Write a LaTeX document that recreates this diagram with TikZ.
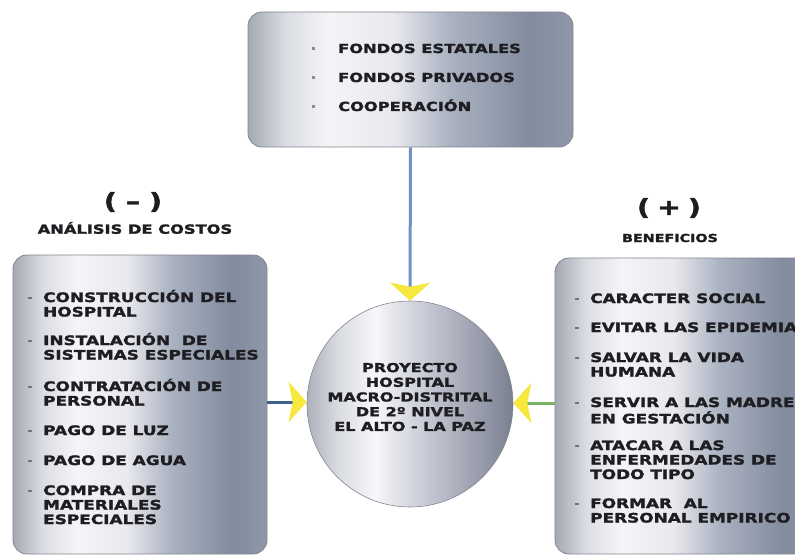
\documentclass[tikz,border=0pt]{standalone}
\usepackage{fontspec}
\newfontfamily\wf[FakeStretch=1.3,BoldFeatures={FakeBold=2}]{DejaVu Sans}
\usetikzlibrary{arrows.meta}
\pgfdeclarehorizontalshading{metal}{100bp}{rgb(0bp)=(0.64,0.66,0.70); rgb(25bp)=(0.64,0.66,0.70); rgb(31bp)=(0.86,0.87,0.89); rgb(37.5bp)=(0.96,0.96,0.97); rgb(47.5bp)=(0.91,0.91,0.93); rgb(56bp)=(0.67,0.70,0.76); rgb(68bp)=(0.51,0.55,0.62); rgb(75bp)=(0.56,0.59,0.66); rgb(100bp)=(0.56,0.59,0.66)}
\pgfdeclarehorizontalshading{metalc}{100bp}{rgb(0bp)=(0.68,0.69,0.73); rgb(25bp)=(0.68,0.69,0.73); rgb(32.5bp)=(0.85,0.86,0.88); rgb(41.5bp)=(0.97,0.97,0.98); rgb(52.5bp)=(0.80,0.81,0.85); rgb(75bp)=(0.48,0.50,0.57); rgb(100bp)=(0.48,0.50,0.57)}
\definecolor{txtc}{RGB}{30,30,34}
\definecolor{arrowyellow}{RGB}{246,232,60}
\definecolor{lineblue}{RGB}{115,145,195}
\definecolor{lineteal}{RGB}{60,95,140}
\definecolor{linegreen}{RGB}{120,180,100}
\definecolor{edgegray}{RGB}{130,134,144}
\newcommand{\bul}{\llap{\textcolor{black!55}{\rule[3pt]{4pt}{2pt}}\hspace{11pt}}}
\newcommand{\bulT}{\llap{\textcolor{black!45}{\rule[3pt]{3pt}{3pt}}\hspace{23pt}}}
\begin{document}
\begin{tikzpicture}[x=1pt,y=-1pt,
  box/.style={draw=edgegray, line width=0.8pt, rounded corners=14pt, shading=metal, inner sep=0pt},
  ball/.style={circle, draw=edgegray, line width=0.6pt, shading=metalc, inner sep=0pt, minimum size=206pt},
  item/.style={font=\wf\bfseries\fontsize{13}{14.5}\selectfont, text=txtc, inner sep=0pt, anchor=base west},
  itemT/.style={font=\wf\bfseries\fontsize{12.5}{14.5}\selectfont, text=txtc, inner sep=0pt, anchor=base west},
  ctext/.style={font=\wf\bfseries\fontsize{12.3}{14.7}\selectfont, text=txtc, inner sep=0pt, align=center},
  sign/.style={font=\wf\bfseries\fontsize{22}{24}\selectfont, text=txtc, inner sep=0pt},
  head/.style={font=\wf\bfseries\fontsize{12.5}{14}\selectfont, text=txtc, inner sep=0pt},
  conn/.style={line width=3pt, -{Stealth[width=40pt,length=18pt,inset=4pt,color=arrowyellow]}}
]
\clip (0,0) rectangle (795,556);
\fill[white] (0,0) rectangle (795,556);

% boxes
\node[box, minimum width=325pt, minimum height=135pt] (top) at (410.5,79.5) {};
\node[box, minimum width=254pt, minimum height=299pt] (lbox) at (140,404.5) {};
\node[box, minimum width=265pt, minimum height=296pt] (rbox) at (687.5,406) {};
\node[ball] (circ) at (410,404) {};

% top box text
\node[itemT] (t1) at (338,53) {\bulT FONDOS ESTATALES};
\node[itemT] (t2) at (338,82) {\bulT FONDOS PRIVADOS};
\node[itemT] (t3) at (338,111) {\bulT COOPERACIÓN};

% headers
\node[sign] (minus) at (133,202) {(\hspace{9pt}–\hspace{9pt})};
\node[head] (costos) at (135,228) {ANÁLISIS DE COSTOS};
\node[sign] (plus) at (669,208) {(\hspace{7pt}+\hspace{7pt})};
\node[head, font=\wf\bfseries\fontsize{11}{13}\selectfont] (benef) at (670,238) {BENEFICIOS};

% left items
\node[item] (l1) at (43,302) {\begin{tabular}[t]{@{}l@{}}\bul CONSTRUCCIÓN DEL\\HOSPITAL\end{tabular}};
\node[item] (l2) at (43,345) {\begin{tabular}[t]{@{}l@{}}\bul INSTALACIÓN\ \ DE\\SISTEMAS ESPECIALES\end{tabular}};
\node[item] (l3) at (43,391) {\begin{tabular}[t]{@{}l@{}}\bul CONTRATACIÓN DE\\PERSONAL\end{tabular}};
\node[item] (l4) at (43,435) {\bul PAGO DE LUZ};
\node[item] (l5) at (43,465) {\bul PAGO DE AGUA};
\node[item] (l6) at (43,495) {\begin{tabular}[t]{@{}l@{}}\bul COMPRA DE\\MATERIALES\\ESPECIALES\end{tabular}};

% right items
\node[item] (r1) at (590,303) {\bul CARACTER SOCIAL};
\node[item] (r2) at (590,332) {\bul EVITAR LAS EPIDEMIAS};
\node[item] (r3) at (590,362) {\begin{tabular}[t]{@{}l@{}}\bul SALVAR LA VIDA\\HUMANA\end{tabular}};
\node[item] (r4) at (590,407) {\begin{tabular}[t]{@{}l@{}}\bul SERVIR A LAS MADRES\\EN GESTACIÓN\end{tabular}};
\node[item] (r5) at (590,450) {\begin{tabular}[t]{@{}l@{}}\bul ATACAR A LAS\\ENFERMEDADES DE\\TODO TIPO\end{tabular}};
\node[item] (r6) at (590,508) {\begin{tabular}[t]{@{}l@{}}\bul FORMAR\ \ AL\\PERSONAL EMPIRICO\end{tabular}};

% circle text
\node[ctext] (ct) at (410,397) {PROYECTO\\HOSPITAL\\MACRO-DISTRITAL\\DE 2º NIVEL\\EL ALTO - LA PAZ};

% connectors
\coordinate (lin) at ([yshift=2pt]circ.west);
\coordinate (rin) at ([yshift=1pt]circ.east);
\draw[conn, draw=lineblue] (top.south) -- (circ.north);
\draw[conn, draw=lineteal] (lin -| lbox.east) -- (lin);
\draw[conn, draw=linegreen] (rin -| rbox.west) -- (rin);
\end{tikzpicture}
\end{document}
